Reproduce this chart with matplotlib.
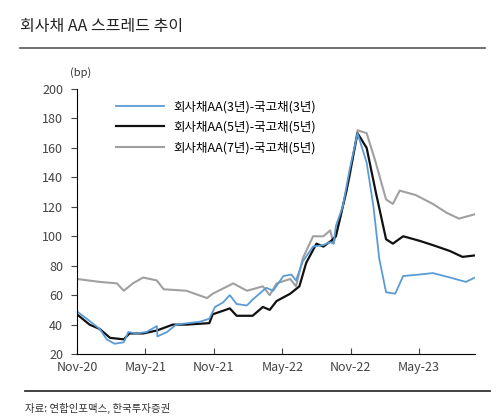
import matplotlib
matplotlib.use("Agg")
import matplotlib.pyplot as plt
from matplotlib.lines import Line2D

plt.rcParams['font.family'] = ['Noto Sans CJK KR', 'DejaVu Sans']

b_m = [0,0.85,2,2.6,3.3,4.1,4.5,5.2,6.1,7,7.05,7.9,8.7,10.8,11.6,12.1,12.8,13.4,14,14.9,15.4,16.3,16.6,17.2,18.1,18.8,19.2,19.8,20.7,21.6,22.2,22.5,22.7,23.3,23.9,24.6,25.4,26,26.5,27.1,27.9,28.6,30,31.2,32.7,34.1,34.9]
b_v = [49,44,37,30,27,28,35,34,35,39,32,35,40,42,44,52,55,60,54,53,57,63,65,63,73,74,70,83,93,94,96,95,107,120,145,170,150,120,85,62,61,73,74,75,72,69,72]
k_m = [0,1.1,2,2.9,4.1,4.6,5.8,7,8.4,9.6,11.6,11.9,13.4,14,15.4,16.3,16.9,17.5,18.7,19.5,20.1,21,21.6,22.3,22.7,23.6,24.6,25.4,26.2,27.1,27.7,28.6,30,31.2,32.7,33.8,34.9]
k_v = [47,40,37,31,30,34,34,36,40,40,41,47,51,46,46,52,50,56,61,66,82,95,93,97,100,130,170,160,130,98,95,100,97,94,90,86,87]
g_m = [0,2,3.5,4.1,4.9,5.8,7,7.6,9.6,11.4,11.9,13.7,14.9,16.3,16.9,17.5,18.7,19.2,19.8,20.7,21.6,22.2,22.5,23,23.9,24.6,25.4,26.2,27.1,27.7,28.3,29.7,31.2,32.4,33.5,34.9]
g_v = [71,69,68,63,68,72,70,64,63,58,61,68,63,66,60,68,71,66,85,100,100,104,95,110,140,172,170,150,125,122,131,128,122,116,112,115]

labels = ['회사채AA(3년)-국고채(3년)', '회사채AA(5년)-국고채(5년)', '회사채AA(7년)-국고채(5년)']
tick_pos = [0, 6, 12, 18, 24, 30]
tick_lab = ['Nov-20', 'May-21', 'Nov-21', 'May-22', 'Nov-22', 'May-23']

fig = plt.figure(figsize=(5, 4.2), dpi=100)
ax = fig.add_axes([0.154, 0.157, 0.796, 0.631])
ax.plot(g_m, g_v, color='#a0a0a0', lw=1.5, label=labels[2])
ax.plot(k_m, k_v, color='#111111', lw=1.6, label=labels[1])
ax.plot(b_m, b_v, color='#5b9bd5', lw=1.3, label=labels[0])
h, l = ax.get_legend_handles_labels()
ax.legend(h[::-1], l[::-1], loc='upper left', bbox_to_anchor=(0.07, 1.0), frameon=False,
          fontsize=9, handlelength=3.8, labelspacing=0.6)
ax.set_xlim(0, 34.9)
ax.set_ylim(20, 200)
ax.set_yticks(range(20, 201, 20))
ax.set_xticks(tick_pos)
ax.set_xticklabels(tick_lab)
ax.tick_params(axis='x', direction='in', length=4, labelsize=9, colors='#444444', pad=5)
ax.tick_params(axis='y', direction='out', length=4, labelsize=9, colors='#444444', pad=6)
for s in ['top', 'right']:
    ax.spines[s].set_visible(False)
fig.text(0.04, 0.925, '회사채 AA 스프레드 추이', fontsize=11.5, color='#222222')
fig.add_artist(Line2D([0.04, 0.97], [0.885, 0.885], color='#555555', lw=1.2))
fig.text(0.14, 0.82, '(bp)', fontsize=8, color='#333333')
fig.add_artist(Line2D([0.05, 0.98], [0.07, 0.07], color='#333333', lw=1.3))
fig.text(0.05, 0.02, '자료: 연합인포맥스, 한국투자증권', fontsize=7.5, color='#333333')
fig.savefig('out.png', dpi=100)
